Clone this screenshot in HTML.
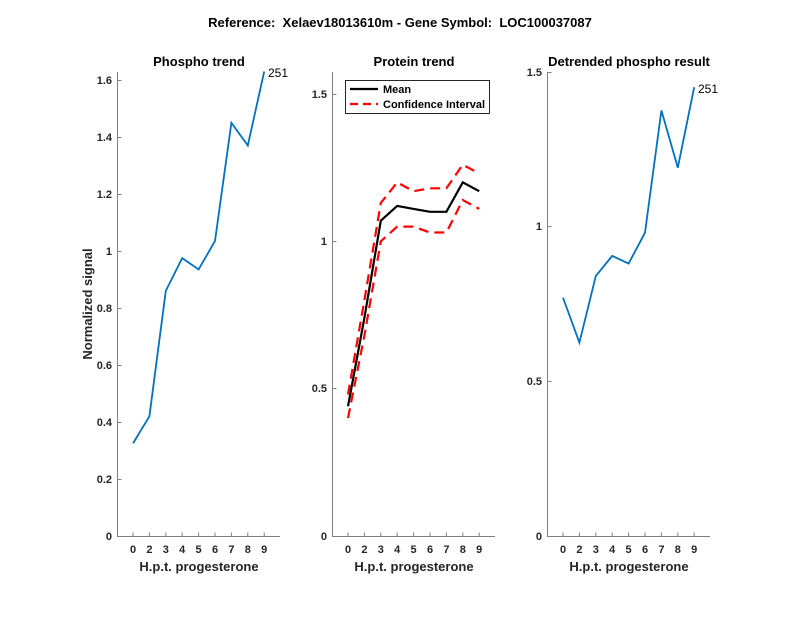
<!DOCTYPE html>
<html><head><meta charset="utf-8"><style>body{margin:0;background:#fff}svg{display:block}text{font-family:"Liberation Sans",sans-serif}</style></head><body>
<svg width="800" height="618" xmlns="http://www.w3.org/2000/svg">
<rect width="800" height="618" fill="#fff"/>
<text x="400" y="27" font-size="13" font-weight="bold" text-anchor="middle" fill="#000">Reference:&#160; Xelaev18013610m - Gene Symbol:&#160; LOC100037087</text>
<g stroke="#7f7f7f" stroke-width="1" fill="none">
<path d="M117.5 72V536.5H280"/>
<path d="M117.5 479.5h4M117.5 422.5h4M117.5 365.5h4M117.5 308.5h4M117.5 251.5h4M117.5 194.5h4M117.5 137.5h4M117.5 80.5h4"/>
<path d="M133 536.5v-4M149.4 536.5v-4M165.8 536.5v-4M182.2 536.5v-4M198.6 536.5v-4M215 536.5v-4M231.4 536.5v-4M247.8 536.5v-4M264.2 536.5v-4"/>
<path d="M332.5 72V536.5H495"/>
<path d="M332.5 388.5h4M332.5 241.5h4M332.5 94.5h4"/>
<path d="M348 536.5v-4M364.4 536.5v-4M380.8 536.5v-4M397.2 536.5v-4M413.6 536.5v-4M430 536.5v-4M446.4 536.5v-4M462.8 536.5v-4M479.2 536.5v-4"/>
<path d="M547.5 72V536.5H710"/>
<path d="M547.5 381.5h4M547.5 226.5h4M547.5 72.5h4"/>
<path d="M563 536.5v-4M579.4 536.5v-4M595.8 536.5v-4M612.2 536.5v-4M628.6 536.5v-4M645 536.5v-4M661.4 536.5v-4M677.8 536.5v-4M694.2 536.5v-4"/>
</g>
<g font-size="11" font-weight="bold" fill="#262626" text-anchor="end">
<text x="112" y="540">0</text><text x="112" y="483">0.2</text><text x="112" y="426">0.4</text><text x="112" y="369">0.6</text><text x="112" y="312">0.8</text><text x="112" y="255">1</text><text x="112" y="198">1.2</text><text x="112" y="141">1.4</text><text x="112" y="84">1.6</text>
<text x="327" y="540">0</text><text x="327" y="392">0.5</text><text x="327" y="245">1</text><text x="327" y="98">1.5</text>
<text x="542" y="540">0</text><text x="542" y="385">0.5</text><text x="542" y="230">1</text><text x="542" y="76">1.5</text>
</g>
<g font-size="11" font-weight="bold" fill="#262626" text-anchor="middle">
<text x="133" y="553">0</text><text x="149.4" y="553">2</text><text x="165.8" y="553">3</text><text x="182.2" y="553">4</text><text x="198.6" y="553">5</text><text x="215" y="553">6</text><text x="231.4" y="553">7</text><text x="247.8" y="553">8</text><text x="264.2" y="553">9</text>
<text x="348" y="553">0</text><text x="364.4" y="553">2</text><text x="380.8" y="553">3</text><text x="397.2" y="553">4</text><text x="413.6" y="553">5</text><text x="430" y="553">6</text><text x="446.4" y="553">7</text><text x="462.8" y="553">8</text><text x="479.2" y="553">9</text>
<text x="563" y="553">0</text><text x="579.4" y="553">2</text><text x="595.8" y="553">3</text><text x="612.2" y="553">4</text><text x="628.6" y="553">5</text><text x="645" y="553">6</text><text x="661.4" y="553">7</text><text x="677.8" y="553">8</text><text x="694.2" y="553">9</text>
</g>
<g font-size="13" font-weight="bold" fill="#262626" text-anchor="middle">
<text x="199" y="571">H.p.t. progesterone</text><text x="414" y="571">H.p.t. progesterone</text><text x="629" y="571">H.p.t. progesterone</text>
<text transform="translate(92,304) rotate(-90)">Normalized signal</text>
</g>
<g font-size="13" font-weight="bold" fill="#000" text-anchor="middle">
<text x="199" y="66">Phospho trend</text><text x="414" y="66">Protein trend</text><text x="629" y="66">Detrended phospho result</text>
</g>
<polyline fill="none" stroke="#0072BD" stroke-width="1.8" points="133,443.4 149.4,416.3 165.8,290.9 182.2,258.1 198.6,269.5 215,241 231.4,122.8 247.8,145.5 264.2,71.5"/>
<polyline fill="none" stroke="#0072BD" stroke-width="1.8" points="563,297.7 579.4,342.6 595.8,276 612.2,255.9 628.6,263.6 645,232.7 661.4,110.4 677.8,167.7 694.2,87.2"/>
<text x="268" y="77" font-size="12" fill="#000">251</text>
<text x="698" y="93" font-size="12" fill="#000">251</text>
<polyline fill="none" stroke="#000" stroke-width="2.2" points="348,406.3 364.4,317.9 380.8,220.7 397.2,205.9 413.6,208.9 430,211.8 446.4,211.8 462.8,182.4 479.2,191.2"/>
<polyline fill="none" stroke="#f00" stroke-width="2.2" stroke-dasharray="10,6" points="348,394.5 364.4,300.2 380.8,203 397.2,182.4 413.6,191.2 430,188.3 446.4,188.3 462.8,164.7 479.2,173.5"/>
<polyline fill="none" stroke="#f00" stroke-width="2.2" stroke-dasharray="10,6" points="348,418.1 364.4,335.6 380.8,241.3 397.2,226.6 413.6,226.6 430,232.5 446.4,232.5 462.8,200 479.2,208.9"/>
<rect x="345.5" y="80.5" width="144" height="33" fill="#fff" stroke="#262626" stroke-width="1"/>
<line x1="350" y1="89" x2="378" y2="89" stroke="#000" stroke-width="2.2"/>
<line x1="350" y1="104" x2="378" y2="104" stroke="#f00" stroke-width="2.2" stroke-dasharray="8,5"/>
<text x="383" y="93" font-size="11" font-weight="bold" fill="#000">Mean</text>
<text x="383" y="108" font-size="11" font-weight="bold" fill="#000">Confidence Interval</text>
</svg>
</body></html>
